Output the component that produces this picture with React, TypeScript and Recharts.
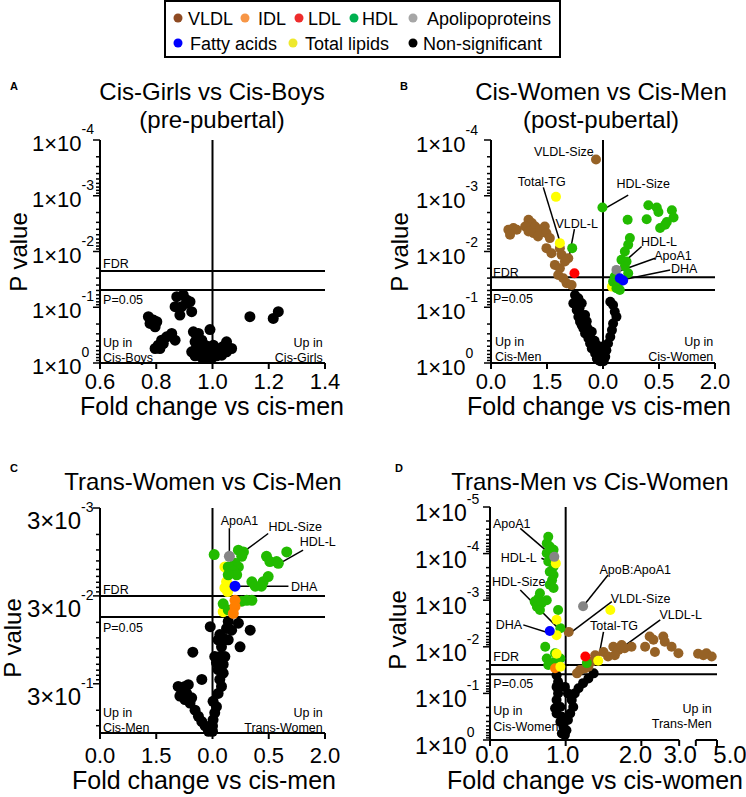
import React from 'react';
import { ScatterChart, Scatter, XAxis, YAxis, ReferenceLine } from 'recharts';

const FONT = '"Liberation Sans", Arial, Helvetica, sans-serif';
const W = 746;
const H = 797;

type Pt = [number, number];
type Note = { text: string; x: number; y: number; anchor?: 'start' | 'middle' | 'end'; line?: [Pt, Pt] };

const COLORS = {
  vldl: '#966226',
  idl: '#ff7f00',
  ldl: '#ff0000',
  hdl: '#22bb00',
  apo: '#858585',
  fatty: '#0000ff',
  total: '#ffff00',
  ns: '#000000',
};

// ---------- Panel A: Cis-Girls vs Cis-Boys ----------
const aXTicks = [0.6, 0.8, 1.0, 1.2, 1.4];
const aXLabels = ['0.6', '0.8', '1.0', '1.2', '1.4'];
const aYMajor = [0, 1, 2, 3, 4];
const aYExp = ['0', '-1', '-2', '-3', '-4'];
const aNonSig: Pt[] = [
  [0.873, 1.19], [0.896, 1.22], [0.908, 1.13], [0.92, 1.1], [0.867, 1.01], [0.89, 1.01], [0.884, 0.86], [0.926, 0.92], [0.908, 1.07],
  [0.772, 0.83], [0.79, 0.77], [0.802, 0.74], [0.778, 0.71], [0.796, 0.65],
  [0.855, 0.53], [0.837, 0.47], [0.819, 0.41], [0.807, 0.32], [0.796, 0.26], [0.813, 0.26], [0.825, 0.35], [0.867, 0.41],
  [0.991, 0.6], [0.932, 0.56], [0.95, 0.53], [0.944, 0.47], [0.938, 0.38], [0.962, 0.41], [0.973, 0.32], [0.956, 0.29],
  [0.938, 0.23], [0.926, 0.2], [0.95, 0.17], [0.973, 0.2], [0.991, 0.17], [1.009, 0.23], [1.027, 0.26], [1.05, 0.38],
  [1.068, 0.26], [1.05, 0.2], [1.033, 0.14], [1.015, 0.13], [0.996, 0.08], [0.979, 0.11], [0.962, 0.1], [0.938, 0.13],
  [1.003, 0.32], [0.985, 0.29], [1.02, 0.19], [1.036, 0.29],
  [1.133, 0.83], [1.234, 0.92], [1.216, 0.8],
];
const aNotes: Note[] = [
  { text: 'FDR', x: 0.611, y: 1.79, anchor: 'start' },
  { text: 'P=0.05', x: 0.611, y: 1.13, anchor: 'start' },
  { text: 'Up in', x: 0.611, y: 0.36, anchor: 'start' },
  { text: 'Cis-Boys', x: 0.611, y: 0.09, anchor: 'start' },
  { text: 'Up in', x: 1.392, y: 0.36, anchor: 'end' },
  { text: 'Cis-Girls', x: 1.392, y: 0.09, anchor: 'end' },
];

// ---------- Panel B: Cis-Women vs Cis-Men ----------
const bXTicks = [0, 1, 2, 3, 4];
const bXLabels = ['0.0', '1.5', '0.0', '0.5', '2.0'];
const bYMajor = [0, 1, 2, 3, 4];
const bYExp = ['0', '-1', '-2', '-3', '-4'];
const bVLDL: Pt[] = [
  [1.875, 3.65], [0.31, 2.39], [0.4, 2.42], [0.46, 2.39], [0.34, 2.3], [0.67, 2.57], [0.73, 2.51], [0.79, 2.45],
  [0.61, 2.45], [0.67, 2.36], [0.76, 2.33], [0.875, 2.39], [0.96, 2.45], [0.99, 2.33], [0.84, 2.27], [1.05, 2.24],
  [0.99, 2.06], [1.08, 1.97], [1.23, 2.06], [1.26, 1.94], [1.38, 1.88], [1.14, 1.76], [1.23, 1.7], [1.2, 1.58],
  [1.29, 1.52], [1.35, 1.43], [1.44, 1.4], [1.32, 1.82],
];
const bTotal: Pt[] = [[1.16, 2.98], [1.23, 2.15], [2.16, 1.37]];
const bHDL: Pt[] = [
  [1.45, 2.06], [1.99, 2.79], [2.81, 2.83], [2.96, 2.79], [2.99, 2.71], [3.23, 2.74], [3.26, 2.61], [3.14, 2.53],
  [3.02, 2.42], [2.78, 2.58], [2.44, 2.57], [3.11, 2.48], [2.48, 2.24], [2.45, 2.12], [2.39, 2.0], [2.33, 1.85],
  [2.42, 1.82], [2.39, 1.73], [2.45, 1.61], [2.21, 1.55], [2.18, 1.46], [2.27, 1.43], [2.24, 1.34], [2.3, 1.31],
];
const bLDL: Pt[] = [[1.49, 1.61]];
const bApo: Pt[] = [[2.24, 1.67]];
const bFatty: Pt[] = [[2.3, 1.52], [2.36, 1.48]];
const bNonSig: Pt[] = [
  [1.5, 1.22], [1.47, 1.07], [1.53, 0.95], [1.56, 0.83], [1.59, 0.74], [1.65, 0.62], [1.68, 0.53], [1.74, 0.44],
  [1.77, 0.35], [1.8, 0.26], [1.86, 0.17], [1.89, 0.08], [1.95, 0.03], [1.62, 1.07], [1.68, 0.86], [1.62, 0.68],
  [1.71, 0.65], [1.8, 0.56], [1.8, 0.41], [1.89, 0.32], [1.92, 0.23], [1.56, 1.16], [2.13, 1.1], [2.18, 1.04],
  [2.21, 0.92], [2.24, 0.83], [2.18, 0.71], [2.16, 0.59], [2.13, 0.47], [2.09, 0.35], [2.06, 0.23], [2.04, 0.11],
  [2.01, 0.03], [1.92, 0.05], [1.97, 0.11], [1.95, 0.2], [1.53, 1.13], [1.58, 0.98], [1.71, 0.75], [1.74, 0.6],
  [1.85, 0.4], [2.01, 0.3],
];
const bNotes: Note[] = [
  { text: 'FDR', x: 0.036, y: 1.62, anchor: 'start' },
  { text: 'P=0.05', x: 0.036, y: 1.16, anchor: 'start' },
  { text: 'Up in', x: 0.07, y: 0.38, anchor: 'start' },
  { text: 'Cis-Men', x: 0.07, y: 0.11, anchor: 'start' },
  { text: 'Up in', x: 3.97, y: 0.38, anchor: 'end' },
  { text: 'Cis-Women', x: 3.97, y: 0.11, anchor: 'end' },
  { text: 'VLDL-Size', x: 1.3, y: 3.8 },
  { text: 'Total-TG', x: 0.905, y: 3.25, line: [[0.934, 3.15], [1.23, 2.18]] },
  { text: 'VLDL-L', x: 1.53, y: 2.5, line: [[1.49, 2.4], [1.39, 1.88]] },
  { text: 'HDL-Size', x: 2.72, y: 3.22, line: [[2.45, 3.01], [2.07, 2.79]] },
  { text: 'HDL-L', x: 3.0, y: 2.18, line: [[2.69, 2.09], [2.42, 1.85]] },
  { text: 'ApoA1', x: 3.25, y: 1.92, line: [[2.93, 1.88], [2.27, 1.64]] },
  { text: 'DHA', x: 3.45, y: 1.7, line: [[3.2, 1.67], [2.33, 1.49]] },
];

// ---------- Panel C: Trans-Women vs Cis-Men ----------
const cXTicks = [0, 1, 2, 3, 4];
const cXLabels = ['0.0', '1.5', '0.0', '0.5', '2.0'];
const cYMajor = [1, 2, 3];
const cYExp = ['-1', '-2', '-3'];
const cHDL: Pt[] = [
  [2.03, 2.47], [2.46, 2.52], [2.55, 2.5], [2.52, 2.45], [2.4, 2.37], [2.28, 2.33], [2.46, 2.33], [2.37, 2.28],
  [2.43, 2.24], [2.28, 2.24], [2.96, 2.45], [3.02, 2.39], [3.14, 2.39], [3.32, 2.5], [3.17, 2.37], [2.99, 2.22],
  [2.9, 2.16], [2.7, 2.16], [2.76, 2.11], [2.87, 2.11], [2.61, 1.95], [2.7, 1.95], [2.52, 1.94], [2.19, 1.91], [2.28, 1.84],
];
const cApo: Pt[] = [[2.3, 2.45]];
const cTotal: Pt[] = [[2.22, 2.33], [2.25, 2.16], [2.22, 2.09], [2.27, 2.05], [2.19, 1.82]];
const cFatty: Pt[] = [[2.4, 2.11]];
const cIDL: Pt[] = [[2.4, 1.95], [2.4, 1.88], [2.37, 1.8]];
const cNonSig: Pt[] = [
  [1.96, 1.65], [2.28, 1.71], [2.25, 1.63], [2.34, 1.61], [2.46, 1.69], [2.67, 1.61], [2.13, 1.56], [2.19, 1.52],
  [2.1, 1.5], [2.28, 1.5], [2.49, 1.42], [2.16, 1.42], [1.65, 1.36], [2.04, 1.31], [2.13, 1.31], [2.22, 1.31],
  [2.07, 1.24], [2.19, 1.22], [2.1, 1.16], [2.19, 1.12], [2.13, 1.05], [2.16, 0.97], [2.1, 0.89], [2.01, 0.8],
  [2.07, 0.74], [2.04, 0.67], [2.01, 0.59], [2.0, 0.52], [2.0, 0.46], [1.81, 1.05], [1.39, 0.97], [1.45, 0.93],
  [1.51, 0.97], [1.57, 0.99], [1.42, 0.86], [1.51, 0.82], [1.6, 0.78], [1.69, 0.7], [1.75, 0.63], [1.81, 0.57],
  [1.87, 0.52], [1.93, 0.46], [1.54, 0.89], [1.63, 0.84],
];
const cNotes: Note[] = [
  { text: 'FDR', x: 0.053, y: 2.07, anchor: 'start' },
  { text: 'P=0.05', x: 0.053, y: 1.64, anchor: 'start' },
  { text: 'Up in', x: 0.053, y: 0.67, anchor: 'start' },
  { text: 'Cis-Men', x: 0.053, y: 0.5, anchor: 'start' },
  { text: 'Up in', x: 3.96, y: 0.67, anchor: 'end' },
  { text: 'Trans-Women', x: 3.96, y: 0.5, anchor: 'end' },
  { text: 'ApoA1', x: 2.48, y: 2.86, line: [[2.3, 2.77], [2.3, 2.47]] },
  { text: 'HDL-Size', x: 3.47, y: 2.79, line: [[2.99, 2.71], [2.55, 2.5]] },
  { text: 'HDL-L', x: 3.87, y: 2.62, line: [[3.61, 2.52], [3.14, 2.35]] },
  { text: 'DHA', x: 3.63, y: 2.11, line: [[3.35, 2.11], [2.4, 2.11]] },
];

// ---------- Panel D: Trans-Men vs Cis-Women ----------
const dXTicks = [0, 1, 2, 2.5, 2.72, 3];
const dXLabels = ['0.0', '1.0', '2.0', '3.0', '', '5.0'];
const dXShift = [2, -3, -6, 1, 0, 13];
const dYMajor = [0, 1, 2, 3, 4, 5];
const dYExp = ['0', '-1', '-2', '-3', '-4', '-5'];
const dHDL: Pt[] = [
  [0.77, 4.36], [0.75, 4.22], [0.79, 4.15], [0.84, 4.08], [0.75, 4.01], [0.82, 3.9], [0.77, 3.83], [0.84, 3.72],
  [0.79, 3.61], [0.84, 3.54], [0.82, 3.43], [0.79, 3.33], [0.84, 3.26], [0.66, 3.15], [0.64, 3.04], [0.59, 2.97],
  [0.62, 2.86], [0.68, 2.93], [0.66, 2.79], [0.75, 3.0], [0.9, 2.79], [0.93, 2.4], [0.73, 2.0], [0.86, 1.86],
  [0.75, 1.75], [0.93, 1.75], [0.86, 1.68], [0.77, 1.61], [1.28, 1.65],
];
const dApo: Pt[] = [[0.85, 3.93], [1.23, 2.87]];
const dTotal: Pt[] = [[0.87, 3.79], [0.88, 2.58], [0.88, 2.25], [0.88, 1.85], [0.93, 1.57], [1.59, 2.79], [1.43, 1.7]];
const dFatty: Pt[] = [[0.79, 2.34]];
const dIDL: Pt[] = [[0.86, 1.54]];
const dLDL: Pt[] = [[1.26, 1.79]];
const dVLDL: Pt[] = [
  [1.04, 2.32], [1.39, 1.82], [1.5, 1.89], [1.56, 1.79], [1.63, 2.0], [1.7, 1.93], [1.74, 2.04], [1.65, 1.82],
  [1.78, 1.97], [1.87, 2.0], [2.11, 2.22], [2.16, 2.15], [2.29, 2.22], [2.31, 2.11], [2.4, 2.0], [2.05, 2.0],
  [2.18, 1.89], [2.49, 1.86], [2.75, 1.85], [2.86, 1.86], [2.93, 1.79], [2.82, 1.82], [1.19, 1.5], [1.15, 1.43],
  [1.26, 1.54], [1.34, 1.68], [1.3, 1.57],
];
const dNonSig: Pt[] = [
  [1.37, 1.43], [1.3, 1.32], [1.23, 1.22], [1.17, 1.11], [1.12, 1.0], [1.08, 0.86], [1.1, 0.71], [1.06, 0.57],
  [1.03, 0.43], [1.01, 0.21], [0.99, 0.11], [0.88, 1.14], [0.9, 1.0], [0.88, 0.86], [0.86, 0.68], [0.88, 0.57],
  [0.93, 0.71], [0.95, 0.5], [0.93, 0.39], [0.97, 0.29], [0.95, 0.14], [0.9, 1.25], [0.99, 1.14], [1.03, 1.0], [0.88, 1.39],
];
const dNotes: Note[] = [
  { text: 'FDR', x: 0.044, y: 1.79, anchor: 'start' },
  { text: 'P=0.05', x: 0.044, y: 1.22, anchor: 'start' },
  { text: 'Up in', x: 0.044, y: 0.63, anchor: 'start' },
  { text: 'Cis-Women', x: 0.044, y: 0.29, anchor: 'start' },
  { text: 'Up in', x: 2.93, y: 0.68, anchor: 'end' },
  { text: 'Trans-Men', x: 2.93, y: 0.36, anchor: 'end' },
  { text: 'ApoA1', x: 0.287, y: 4.65, line: [[0.4, 4.54], [0.84, 3.93]] },
  { text: 'HDL-L', x: 0.38, y: 3.91, line: [[0.68, 3.9], [0.84, 3.79]] },
  { text: 'HDL-Size', x: 0.38, y: 3.4, line: [[0.4, 3.22], [0.95, 2.32]] },
  { text: 'DHA', x: 0.25, y: 2.47, line: [[0.44, 2.47], [0.79, 2.29]] },
  { text: 'ApoB:ApoA1', x: 1.92, y: 3.65, line: [[1.56, 3.54], [1.26, 2.93]] },
  { text: 'VLDL-Size', x: 1.99, y: 3.04, line: [[1.61, 2.97], [1.08, 2.32]] },
  { text: 'Total-TG', x: 1.64, y: 2.45, line: [[1.5, 2.32], [1.43, 1.72]] },
  { text: 'VLDL-L', x: 2.52, y: 2.68, line: [[2.25, 2.58], [1.7, 1.93]] },
];

interface Panel {
  box: { left: number; right: number; top: number; bottom: number };
  xDomain: [number, number];
  xTicks: number[];
  xLabels: string[];
  xShift?: number[];
  xFont: number;
  xBase: number;
  yDomain: [number, number];
  yMajor: number[];
  yExp: string[];
  yMant: string;
  yFont: number;
  yStart: number;
  yBase: number;
  vLine: number;
  fdr: number;
  p05: number;
  r: number;
  series: { color: string; pts: Pt[] }[];
  notes: Note[];
  axisSegments?: [Pt, Pt][];
}

const panels: Panel[] = [
  {
    box: { left: 100, right: 325, top: 140, bottom: 363 },
    xDomain: [0.6, 1.4], xTicks: aXTicks, xLabels: aXLabels, xFont: 22, xBase: 26,
    yDomain: [0, 4], yMajor: aYMajor, yExp: aYExp, yMant: '1×10', yFont: 22, yStart: 68, yBase: 11,
    vLine: 1.0, fdr: 1.65, p05: 1.31, r: 5.5,
    series: [{ color: COLORS.ns, pts: aNonSig }],
    notes: aNotes,
  },
  {
    box: { left: 491, right: 715, top: 140, bottom: 363 },
    xDomain: [0, 4], xTicks: bXTicks, xLabels: bXLabels, xFont: 22, xBase: 26,
    yDomain: [0, 4], yMajor: bYMajor, yExp: bYExp, yMant: '1×10', yFont: 22, yStart: 75, yBase: 12,
    vLine: 2, fdr: 1.54, p05: 1.31, r: 5,
    series: [
      { color: COLORS.ns, pts: bNonSig },
      { color: COLORS.vldl, pts: bVLDL },
      { color: COLORS.total, pts: bTotal },
      { color: COLORS.hdl, pts: bHDL },
      { color: COLORS.ldl, pts: bLDL },
      { color: COLORS.apo, pts: bApo },
      { color: COLORS.fatty, pts: bFatty },
    ],
    notes: bNotes,
  },
  {
    box: { left: 100, right: 325, top: 508, bottom: 733 },
    xDomain: [0, 4], xTicks: cXTicks, xLabels: cXLabels, xFont: 22, xBase: 30,
    yDomain: [0.44, 3], yMajor: cYMajor, yExp: cYExp, yMant: '3×10', yFont: 24, yStart: 73, yBase: 21,
    vLine: 2, fdr: 2.0, p05: 1.76, r: 5.5,
    series: [
      { color: COLORS.ns, pts: cNonSig },
      { color: COLORS.total, pts: cTotal },
      { color: COLORS.hdl, pts: cHDL },
      { color: COLORS.idl, pts: cIDL },
      { color: COLORS.apo, pts: cApo },
      { color: COLORS.fatty, pts: cFatty },
    ],
    notes: cNotes,
  },
  {
    box: { left: 490, right: 717, top: 507, bottom: 740 },
    xDomain: [0, 3], xTicks: dXTicks, xLabels: dXLabels, xShift: dXShift, xFont: 24, xBase: 23,
    yDomain: [0, 5], yMajor: dYMajor, yExp: dYExp, yMant: '1×10', yFont: 23, yStart: 75, yBase: 14,
    vLine: 1, fdr: 1.61, p05: 1.41, r: 5,
    series: [
      { color: COLORS.ns, pts: dNonSig },
      { color: COLORS.vldl, pts: dVLDL },
      { color: COLORS.hdl, pts: dHDL },
      { color: COLORS.idl, pts: dIDL },
      { color: COLORS.total, pts: dTotal },
      { color: COLORS.ldl, pts: dLDL },
      { color: COLORS.apo, pts: dApo },
      { color: COLORS.fatty, pts: dFatty },
    ],
    notes: dNotes,
    axisSegments: [[[0, 0], [2.5, 0]], [[2.72, 0], [3, 0]]],
  },
];

// log-scale minor ticks (2..9 x 10^-n) in -log10(p) units
const minorTicks = ([lo, hi]: [number, number]) => {
  const out: number[] = [];
  for (let n = Math.ceil(lo); n <= Math.ceil(hi); n++) {
    for (let m = 2; m <= 9; m++) {
      const v = n - Math.log10(m);
      if (v >= lo && v <= hi) out.push(v);
    }
  }
  return out;
};

const VolcanoPanel = ({ p }: { p: Panel }) => {
  const { box } = p;
  const yTicks = [...p.yMajor, ...minorTicks(p.yDomain)].sort((a, b) => a - b);

  const xTick = (props: any) => {
    const { x, y, payload } = props;
    const i = p.xTicks.findIndex((t) => Math.abs(t - payload.value) < 1e-6);
    const dx = p.xShift ? p.xShift[i] : 0;
    return (
      <g>
        <line x1={x} x2={x} y1={y} y2={y + 6} stroke="#000" strokeWidth={2} />
        <text x={x + dx} y={y + p.xBase} textAnchor="middle" fontSize={p.xFont} fontFamily={FONT} fill="#000">
          {p.xLabels[i]}
        </text>
      </g>
    );
  };

  const yTick = (props: any) => {
    const { x, y, payload } = props;
    const i = p.yMajor.findIndex((t) => Math.abs(t - payload.value) < 1e-6);
    const major = i >= 0;
    return (
      <g>
        <line x1={x} x2={x - (major ? 7 : 4)} y1={y} y2={y} stroke="#000" strokeWidth={1.5} />
        {major && (
          <text x={x - p.yStart} y={y + p.yBase} fontSize={p.yFont} fontFamily={FONT} fill="#000">
            {p.yMant}
            <tspan fontSize={14} dy={-17}>{p.yExp[i]}</tspan>
          </text>
        )}
      </g>
    );
  };

  const noteShape = (props: any) => {
    const d = props.payload;
    return (
      <text x={props.cx} y={props.cy} dy="0.35em" textAnchor={d.anchor || 'middle'} fontSize={12.5} fontFamily={FONT} fill="#000">
        {d.text}
      </text>
    );
  };

  return (
    <div style={{ position: 'absolute', left: 0, top: 0 }}>
      <ScatterChart
        width={W}
        height={H}
        margin={{ top: box.top, right: W - box.right, bottom: H - box.bottom - 40, left: 0 }}
      >
        <XAxis
          type="number"
          dataKey="x"
          domain={p.xDomain}
          ticks={p.xTicks}
          interval={0}
          height={40}
          tickSize={0}
          tickMargin={0}
          tickLine={false}
          axisLine={p.axisSegments ? false : { stroke: '#000', strokeWidth: 2 }}
          tick={xTick}
        />
        <YAxis
          type="number"
          dataKey="y"
          domain={p.yDomain}
          ticks={yTicks}
          interval={0}
          width={box.left}
          tickSize={0}
          tickMargin={0}
          tickLine={false}
          axisLine={{ stroke: '#000', strokeWidth: 2 }}
          tick={yTick}
        />
        {p.series.map((s, k) => (
          <Scatter
            key={k}
            data={s.pts.map(([x, y]) => ({ x, y }))}
            isAnimationActive={false}
            shape={(props: any) => <circle cx={props.cx} cy={props.cy} r={p.r} fill={s.color} />}
          />
        ))}
        <ReferenceLine x={p.vLine} stroke="#000" strokeWidth={2} />
        <ReferenceLine y={p.fdr} stroke="#000" strokeWidth={2} />
        <ReferenceLine y={p.p05} stroke="#000" strokeWidth={2} />
        {p.axisSegments &&
          p.axisSegments.map((seg, k) => (
            <ReferenceLine
              key={'ax' + k}
              segment={[{ x: seg[0][0], y: seg[0][1] }, { x: seg[1][0], y: seg[1][1] }]}
              stroke="#000"
              strokeWidth={2}
            />
          ))}
        {p.notes
          .filter((n) => n.line)
          .map((n, k) => (
            <ReferenceLine
              key={'nl' + k}
              segment={[{ x: n.line![0][0], y: n.line![0][1] }, { x: n.line![1][0], y: n.line![1][1] }]}
              stroke="#000"
              strokeWidth={1.5}
            />
          ))}
        <Scatter data={p.notes} isAnimationActive={false} shape={noteShape} />
      </ScatterChart>
    </div>
  );
};

const legendItems = [
  { label: 'VLDL', color: '#8e4a22', dot: 178, text: 188, row: 0 },
  { label: 'IDL', color: '#f79646', dot: 245, text: 258, row: 0 },
  { label: 'LDL', color: '#ee2c2c', dot: 299, text: 308, row: 0 },
  { label: 'HDL', color: '#00b050', dot: 354, text: 362, row: 0 },
  { label: 'Apolipoproteins', color: '#a6a6a6', dot: 413, text: 427, row: 0 },
  { label: 'Fatty acids', color: '#0000ff', dot: 178, text: 190, row: 1 },
  { label: 'Total lipids', color: '#eee82c', dot: 293, text: 305, row: 1 },
  { label: 'Non-significant', color: '#000000', dot: 413, text: 423, row: 1 },
];

const titles = [
  { text: 'Cis-Girls vs Cis-Boys', x: 212, y: 100, size: 24 },
  { text: '(pre-pubertal)', x: 212, y: 128, size: 24 },
  { text: 'Cis-Women vs Cis-Men', x: 601, y: 100, size: 24 },
  { text: '(post-pubertal)', x: 601, y: 128, size: 24 },
  { text: 'Trans-Women vs Cis-Men', x: 203, y: 490, size: 24 },
  { text: 'Trans-Men vs Cis-Women', x: 590, y: 490, size: 24 },
  { text: 'Fold change vs cis-men', x: 212, y: 415, size: 25 },
  { text: 'Fold change vs cis-men', x: 599, y: 415, size: 25 },
  { text: 'Fold change vs cis-men', x: 204, y: 789, size: 25 },
  { text: 'Fold change vs cis-women', x: 595, y: 789, size: 25 },
];
const yTitles = [
  { x: 27, y: 252 },
  { x: 408, y: 252 },
  { x: 21, y: 638 },
  { x: 406, y: 630 },
];
const letters = [
  { text: 'A', x: 10, y: 90 },
  { text: 'B', x: 400, y: 90 },
  { text: 'C', x: 10, y: 472 },
  { text: 'D', x: 395, y: 472 },
];

export default function App() {
  return (
    <div style={{ position: 'absolute', left: 0, top: 0, width: W, height: H, background: '#fff', fontFamily: FONT }}>
      {panels.map((p, k) => (
        <VolcanoPanel key={k} p={p} />
      ))}
      <svg width={W} height={H} style={{ position: 'absolute', left: 0, top: 0, pointerEvents: 'none' }}>
        <rect x={165} y={1} width={395} height={56} fill="#fff" stroke="#000" strokeWidth={2} />
        {legendItems.map((it) => {
          const cy = it.row === 0 ? 18 : 43;
          return (
            <g key={it.label}>
              <circle cx={it.dot} cy={cy} r={4.5} fill={it.color} />
              <text x={it.text} y={cy + 6.5} fontSize={18} fontFamily={FONT} fill="#000">
                {it.label}
              </text>
            </g>
          );
        })}
        {titles.map((t, k) => (
          <text key={k} x={t.x} y={t.y} textAnchor="middle" fontSize={t.size} fontFamily={FONT} fill="#000">
            {t.text}
          </text>
        ))}
        {yTitles.map((t, k) => (
          <text
            key={k}
            transform={`translate(${t.x},${t.y}) rotate(-90)`}
            textAnchor="middle"
            fontSize={24}
            fontFamily={FONT}
            fill="#000"
          >
            P value
          </text>
        ))}
        {letters.map((t) => (
          <text key={t.text} x={t.x} y={t.y} fontSize={11} fontWeight="bold" fontFamily={FONT} fill="#000">
            {t.text}
          </text>
        ))}
      </svg>
    </div>
  );
}
